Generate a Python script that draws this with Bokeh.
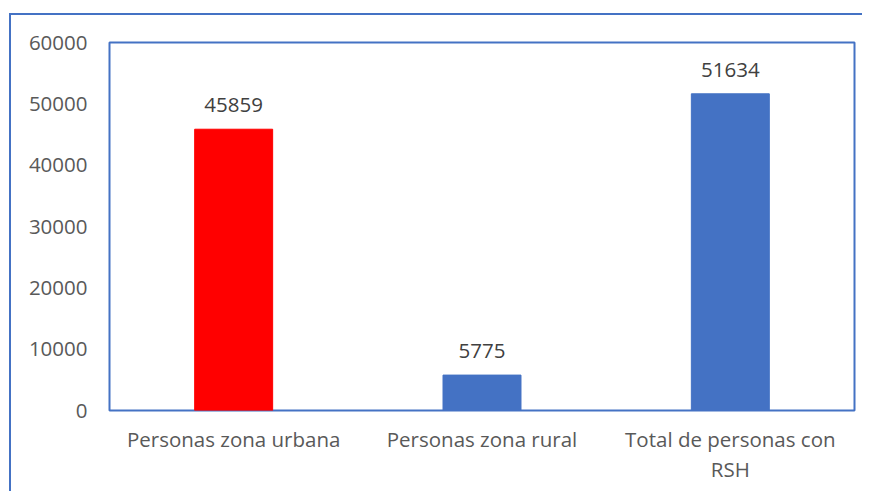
from bokeh.plotting import figure
from bokeh.models import ColumnDataSource, FixedTicker
from bokeh.core.properties import value
from bokeh.embed import file_html
from bokeh.resources import INLINE

categories = ["Personas zona urbana", "Personas zona rural", "Total de personas con\nRSH"]
values = [45859, 5775, 51634]
colors = ["#FF0000", "#4472C4", "#4472C4"]
label_texts = [str(v) for v in values]
y_ticks = [0, 10000, 20000, 30000, 40000, 50000, 60000]

FONT = "Open Sans"

source = ColumnDataSource(data=dict(cat=categories, val=values, color=colors, lab=label_texts))

p = figure(
    x_range=categories, y_range=(0, 60000),
    width=853, height=478,
    output_backend="svg", toolbar_location=None,
    min_border_left=98, min_border_right=10, min_border_top=27, min_border_bottom=83,
)
p.styles = {
    "border-left": "2px solid #4472C4",
    "border-top": "2px solid #4472C4",
    "margin-left": "9px",
    "margin-top": "13px",
}

p.vbar(x="cat", top="val", width=0.314, color="color", source=source)
p.text(x="cat", y="val", text="lab", source=source, y_offset=-24,
       text_align="center", text_baseline="middle",
       text_font=value(FONT), text_font_size="20.5px", text_color="#404040")

p.outline_line_color = "#4472C4"
p.outline_line_width = 2
p.xgrid.visible = False
p.ygrid.visible = False

for ax in (p.xaxis[0], p.yaxis[0]):
    ax.axis_line_color = None
    ax.major_tick_line_color = None
    ax.minor_tick_line_color = None
    ax.major_tick_out = 0
    ax.major_tick_in = 0
    ax.minor_tick_out = 0
    ax.major_label_text_font = FONT
    ax.major_label_text_font_size = "20.5px"
    ax.major_label_text_color = "#595959"

p.yaxis[0].ticker = FixedTicker(ticks=y_ticks)
p.yaxis[0].major_label_standoff = 22
p.xaxis[0].major_label_standoff = 14
p.xaxis[0].major_label_text_line_height = 1.08

open("out.html", "w").write(file_html(p, INLINE))
